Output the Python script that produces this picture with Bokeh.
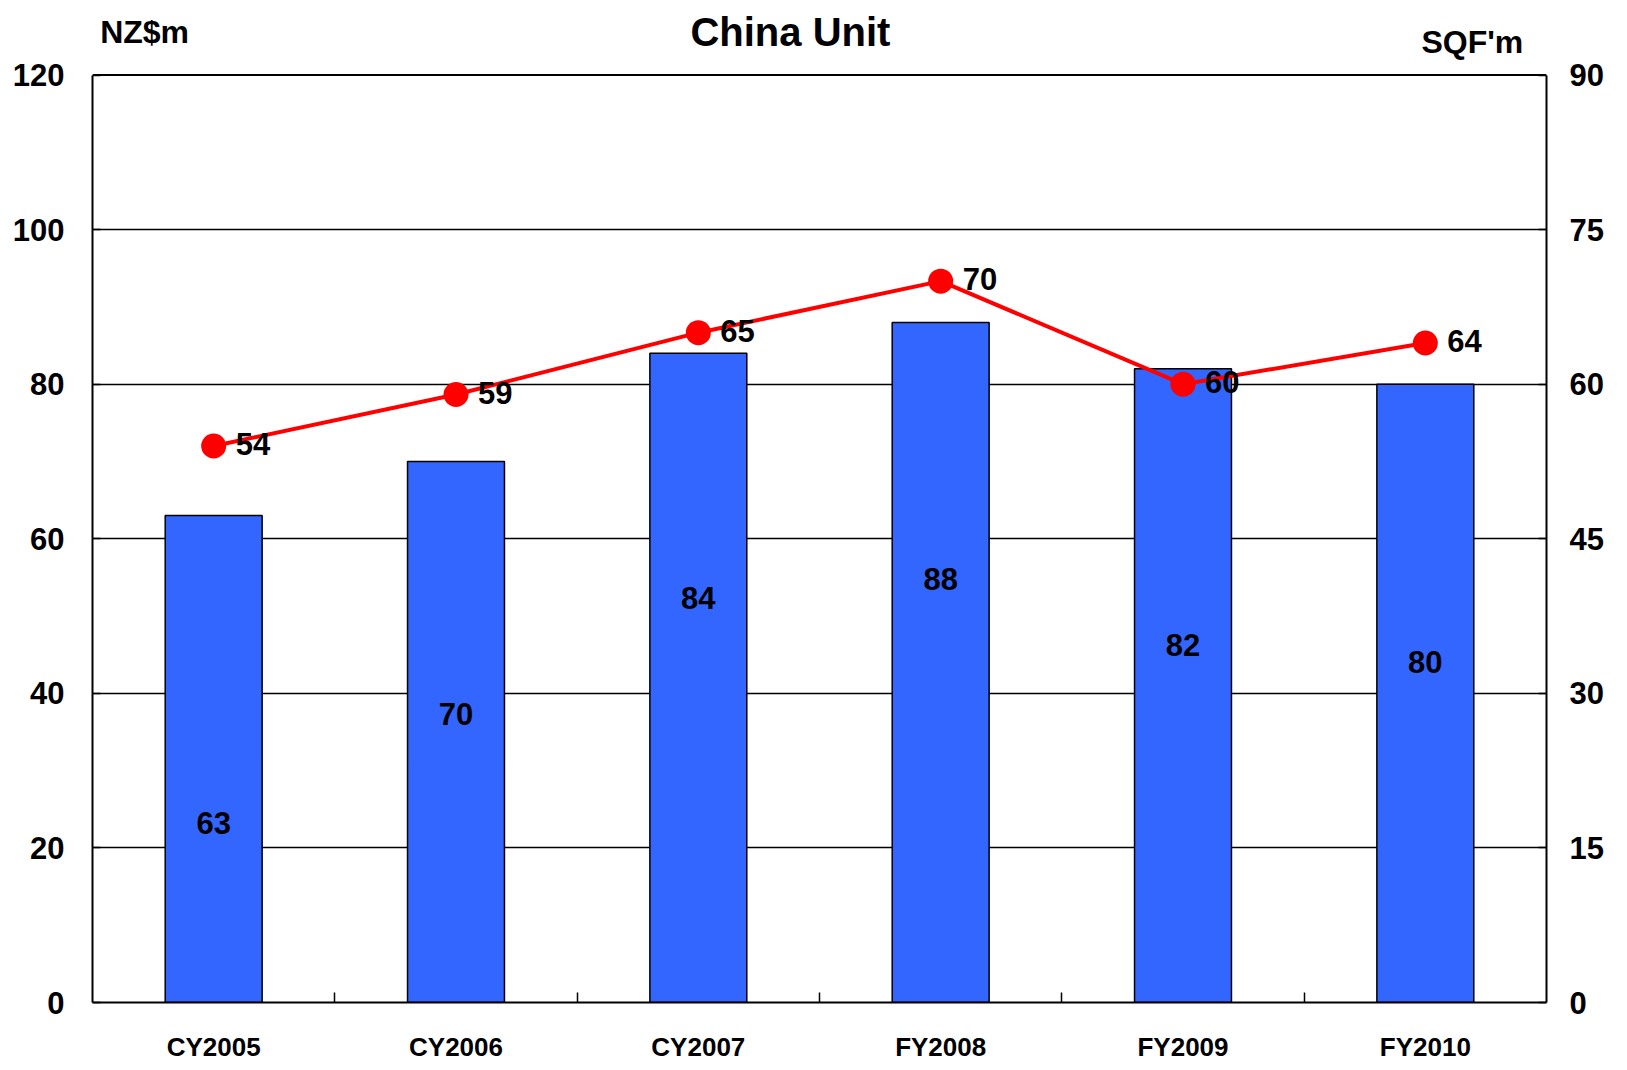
from bokeh.plotting import figure
from bokeh.models import Range1d, LinearAxis, FixedTicker, Label, ColumnDataSource, Span
from bokeh.core.properties import value
from bokeh.embed import file_html
from bokeh.resources import INLINE

# ---- data ----
categories = ["CY2005", "CY2006", "CY2007", "FY2008", "FY2009", "FY2010"]
revenue_nzd = [63, 70, 84, 88, 82, 80]          # bars, left axis (NZ$m)
sqf = [54, 59, 65, 70, 60, 64]                  # line, right axis (SQF'm)
bar_label_y = [23.2, 37.3, 52.3, 54.8, 46.2, 44.0]  # where the bar value labels sit (left-axis units)
left_ticks = [0, 20, 40, 60, 80, 100, 120]
right_ticks = [0, 15, 30, 45, 60, 75, 90]

FONT = "Liberation Sans"

left_max = left_ticks[-1]
right_max = right_ticks[-1]
# extra headroom above the chart frame so the header texts sit inside the canvas frame
view_top = 129
ratio = right_max / left_max

centers = [i + 0.5 for i in range(len(categories))]
bounds = [i for i in range(1, len(categories))]

src = ColumnDataSource(dict(
    x=centers, bar=revenue_nzd, line=sqf, blab=bar_label_y,
    bar_txt=[str(v) for v in revenue_nzd], line_txt=[str(v) for v in sqf],
))

p = figure(width=1627, height=1070, output_backend="svg", toolbar_location=None,
           x_range=Range1d(0, len(categories)), y_range=Range1d(0, view_top),
           min_border_left=92, min_border_right=81, min_border_top=5, min_border_bottom=68)
p.extra_y_ranges = {"right": Range1d(0, view_top * ratio)}

p.background_fill_color = "white"
p.border_fill_color = "white"
p.outline_line_color = None

p.xgrid.visible = False
p.ygrid.ticker = FixedTicker(ticks=left_ticks[1:-1])
p.ygrid.grid_line_color = "black"
p.ygrid.grid_line_width = 1.5

# top edge of the chart box
p.add_layout(Span(location=left_max, dimension="width", line_color="black", line_width=2))

# bars
p.vbar(x="x", top="bar", width=0.4, source=src, fill_color="#3366FF",
       line_color="black", line_width=1.5)

# line + markers on the right axis
p.line(x="x", y="line", source=src, y_range_name="right", line_color="#FF0000", line_width=4)
p.scatter(x="x", y="line", source=src, y_range_name="right", size=25,
          fill_color="#FF0000", line_color=None)

# labels
p.text(x="x", y="blab", text="bar_txt", source=src, text_align="center",
       text_baseline="middle", text_font=value(FONT), text_font_size="31px",
       text_font_style="bold", text_color="black")
p.text(x="x", y="line", text="line_txt", source=src, y_range_name="right",
       x_offset=22, y_offset=-2, text_align="left", text_baseline="middle",
       text_font=value(FONT), text_font_size="31px", text_font_style="bold",
       text_color="black")

# axes
xa = p.xaxis[0]
xa.ticker = FixedTicker(ticks=centers, minor_ticks=bounds)
xa.major_label_overrides = {c: n for c, n in zip(centers, categories)}
xa.major_tick_line_color = None
xa.minor_tick_in = 10
xa.minor_tick_out = 0
xa.minor_tick_line_color = "black"
xa.minor_tick_line_width = 1.5
xa.axis_line_color = "black"
xa.axis_line_width = 2
xa.major_label_standoff = 23
xa.major_label_text_font = FONT
xa.major_label_text_font_size = "26px"
xa.major_label_text_font_style = "bold"
xa.major_label_text_color = "black"

ya = p.yaxis[0]
ya.ticker = FixedTicker(ticks=left_ticks)
ya.bounds = (0, left_max)
ya.minor_tick_line_color = None
ya.major_tick_in = 8
ya.major_tick_out = 0
ya.major_tick_line_color = "black"
ya.major_tick_line_width = 1.5
ya.axis_line_color = "black"
ya.axis_line_width = 2
ya.major_label_standoff = 28
ya.major_label_text_font = FONT
ya.major_label_text_font_size = "31px"
ya.major_label_text_font_style = "bold"
ya.major_label_text_color = "black"

ra = LinearAxis(y_range_name="right", ticker=FixedTicker(ticks=right_ticks))
ra.bounds = (0, right_max)
ra.minor_tick_line_color = None
ra.major_tick_in = 8
ra.major_tick_out = 0
ra.major_tick_line_color = "black"
ra.major_tick_line_width = 1.5
ra.axis_line_color = "black"
ra.axis_line_width = 2
ra.major_label_standoff = 23
ra.major_label_text_font = FONT
ra.major_label_text_font_size = "31px"
ra.major_label_text_font_style = "bold"
ra.major_label_text_color = "black"
p.add_layout(ra, "right")

# titles
p.add_layout(Label(x=2.88, y=125.6, text="China Unit", text_align="center",
                   text_baseline="middle", text_font=FONT, text_font_size="40px",
                   text_font_style="bold", text_color="black"))
p.add_layout(Label(x=0.215, y=125.6, text="NZ$m", text_align="center",
                   text_baseline="middle", text_font=FONT, text_font_size="32px",
                   text_font_style="bold", text_color="black"))
p.add_layout(Label(x=5.694, y=124.3, text="SQF'm", text_align="center",
                   text_baseline="middle", text_font=FONT, text_font_size="32px",
                   text_font_style="bold", text_color="black"))

open("out.html", "w").write(file_html(p, INLINE))
